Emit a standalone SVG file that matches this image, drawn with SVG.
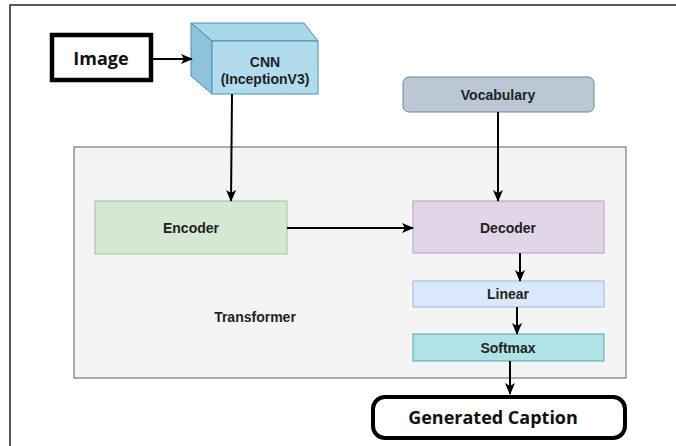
<svg xmlns="http://www.w3.org/2000/svg" width="676" height="446" viewBox="0 0 676 446">
<defs>
<marker id="arr" markerWidth="12" markerHeight="10" refX="11" refY="5" orient="auto" markerUnits="userSpaceOnUse">
<path d="M0,0 L12,5 L0,10 L3,5 z" fill="#000"/>
</marker>
<style>
.lbl{font-family:"Liberation Sans",Arial,sans-serif;font-weight:bold;font-size:14px;fill:#222;text-anchor:middle;dominant-baseline:central}
.big{font-family:"Open Sans","Liberation Sans",sans-serif;font-weight:bold;font-size:18px;fill:#111;text-anchor:middle;dominant-baseline:central}
.conn{stroke:#000;stroke-width:2;fill:none;marker-end:url(#arr)}
</style>
</defs>
<rect width="676" height="446" fill="#fff"/>
<path d="M10,446 L10,5 L676,5" fill="none" stroke="#222" stroke-width="1.5"/>

<g id="transformer">
<rect x="74" y="147" width="552" height="231" fill="#f4f4f4" stroke="#7a4f6e" stroke-width="1"/>
<text class="lbl" x="255" y="317" font-size="15">Transformer</text>
</g>

<g id="image">
<rect x="52" y="35" width="99" height="45" fill="#fff" stroke="#000" stroke-width="4.5"/>
<text class="big" x="101" y="58">Image</text>
</g>

<g id="cnn">
<polygon points="191,23 304,23 318,41 212,41" fill="#a9d6e8" stroke="#4f8fb0" stroke-width="1"/>
<polygon points="191,23 212,41 212,94 191,76" fill="#8fc3da" stroke="#4f8fb0" stroke-width="1"/>
<rect x="212" y="41" width="106" height="53" fill="#b1dcee" stroke="#4f8fb0" stroke-width="1"/>
<text class="lbl" x="265" y="62" font-size="12.5">CNN</text>
<text class="lbl" x="265" y="79" font-size="13.5">(InceptionV3)</text>
</g>

<g id="vocabulary">
<rect x="403" y="77" width="191" height="35" rx="6" fill="#bac8d3" stroke="#6f8597" stroke-width="1"/>
<text class="lbl" x="498" y="95">Vocabulary</text>
</g>

<g id="encoder">
<rect x="95" y="201" width="192" height="53" fill="#d5e8d4" stroke="#9cc496" stroke-width="1"/>
<text class="lbl" x="191" y="228">Encoder</text>
</g>

<g id="decoder">
<rect x="413" y="201" width="191" height="52" fill="#e1d5e7" stroke="#b69cc2" stroke-width="1"/>
<text class="lbl" x="508" y="228">Decoder</text>
</g>

<g id="linear">
<rect x="413" y="281" width="191" height="26" fill="#dae8fc" stroke="#9db6da" stroke-width="1"/>
<text class="lbl" x="508" y="294">Linear</text>
</g>

<g id="softmax">
<rect x="413" y="334" width="191" height="27" fill="#b0e3e6" stroke="#4fa5a9" stroke-width="1"/>
<text class="lbl" x="508" y="348">Softmax</text>
</g>

<g id="caption">
<rect x="373" y="397" width="252" height="41" rx="12" fill="#fff" stroke="#000" stroke-width="4"/>
<text class="big" x="493" y="417">Generated Caption</text>
</g>

<g id="connectors">
<line class="conn" x1="153" y1="59" x2="192" y2="59"/>
<line class="conn" x1="232" y1="94" x2="231" y2="201"/>
<line class="conn" x1="498" y1="112" x2="498" y2="201"/>
<line class="conn" x1="287" y1="228" x2="413" y2="228"/>
<line class="conn" x1="520" y1="253" x2="520" y2="281"/>
<line class="conn" x1="517" y1="307" x2="517" y2="334"/>
<line class="conn" x1="510" y1="361" x2="510" y2="394"/>
</g>
</svg>
